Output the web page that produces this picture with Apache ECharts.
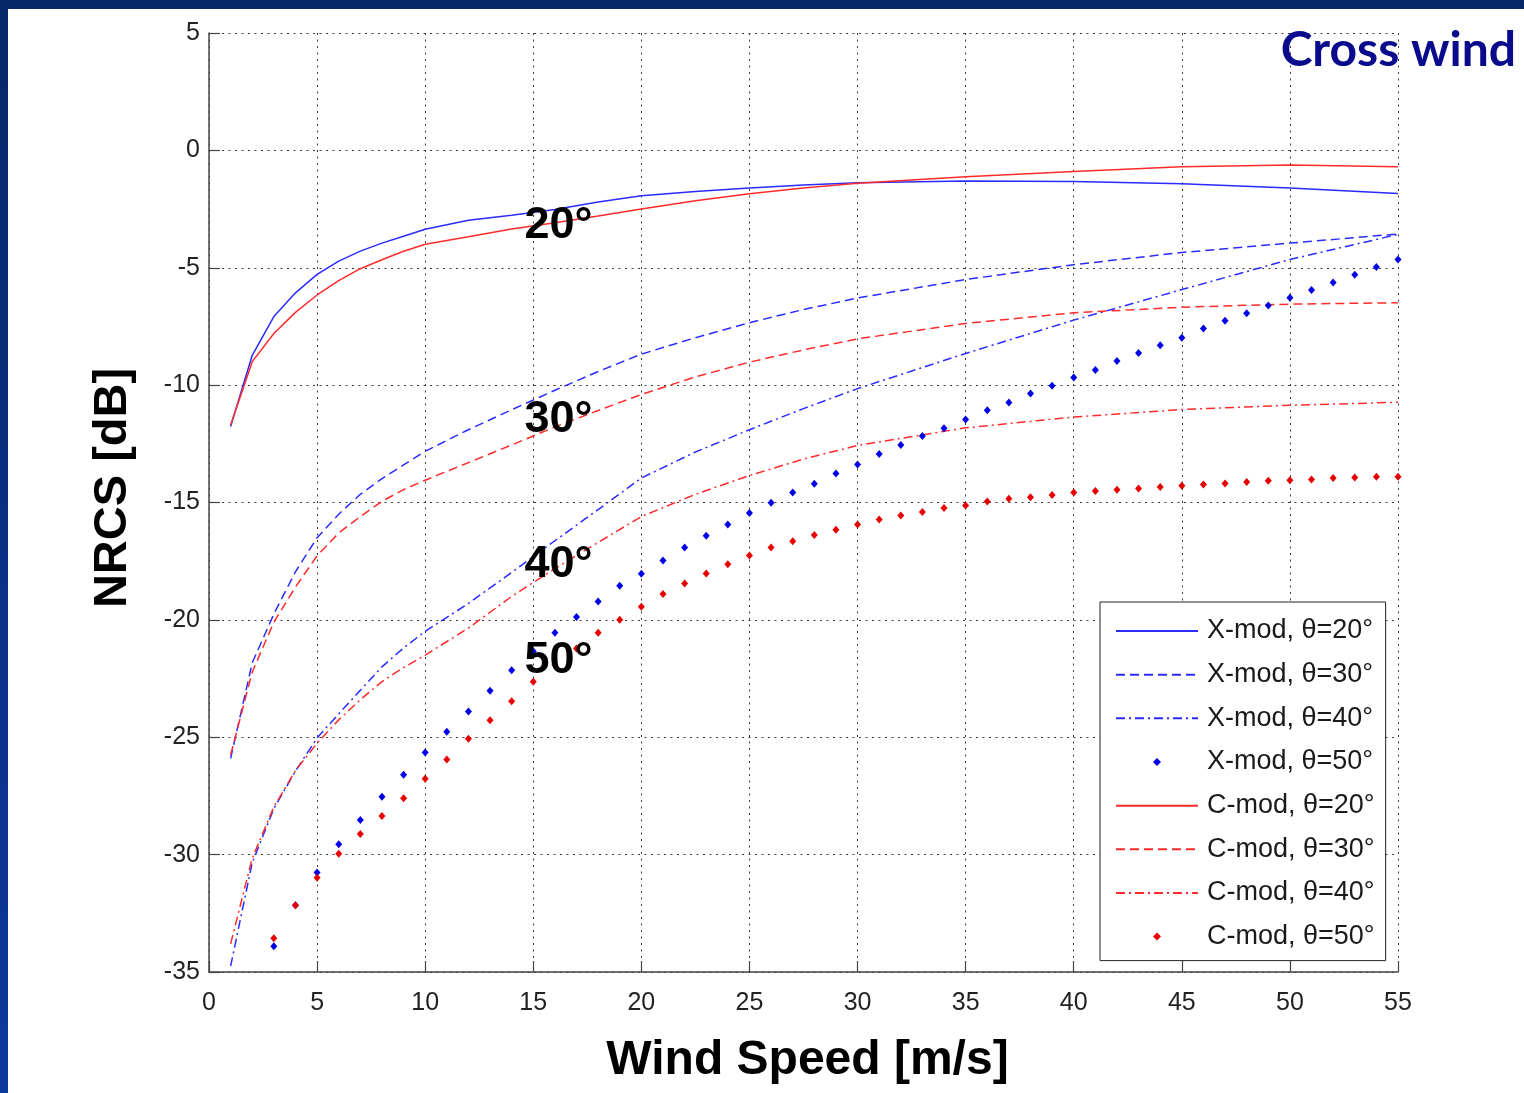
<!DOCTYPE html>
<html>
<head>
<meta charset="utf-8">
<title>Cross wind NRCS</title>
<script src="https://cdn.jsdelivr.net/npm/echarts@6.0.0/dist/echarts.min.js"></script>
<style>
  html, body { margin: 0; padding: 0; background: #fff; }
  #chart { width: 1524px; height: 1093px; }
</style>
</head>
<body>
<div id="chart"></div>
<script>
  const lineSpeeds = [1, 2, 3, 4, 5, 6, 7, 8, 9, 10, 12, 14, 16, 18, 20, 22.5, 25, 27.5, 30, 35, 40, 45, 50, 55];

  const xMod20 = [-11.76, -8.73, -7.08, -6.07, -5.28, -4.72, -4.29, -3.95, -3.66, -3.36, -2.98, -2.76, -2.52, -2.2, -1.93, -1.75, -1.6, -1.47, -1.38, -1.3, -1.33, -1.42, -1.6, -1.84];
  const xMod30 = [-25.9, -21.83, -19.75, -17.95, -16.5, -15.5, -14.65, -13.98, -13.4, -12.82, -11.9, -11.05, -10.22, -9.42, -8.68, -7.98, -7.34, -6.78, -6.29, -5.5, -4.87, -4.35, -3.95, -3.56];
  const xMod40 = [-34.75, -30.34, -28.04, -26.44, -25.03, -24.0, -23.0, -22.0, -21.2, -20.49, -19.3, -17.98, -16.63, -15.3, -13.96, -12.85, -11.9, -11.0, -10.15, -8.65, -7.23, -5.93, -4.65, -3.58];

  const cMod20 = [-11.7, -9.0, -7.8, -6.9, -6.16, -5.55, -5.04, -4.66, -4.3, -4.0, -3.68, -3.35, -3.08, -2.8, -2.5, -2.15, -1.85, -1.6, -1.4, -1.12, -0.9, -0.7, -0.62, -0.7];
  const cMod30 = [-25.75, -22.22, -20.1, -18.6, -17.27, -16.3, -15.6, -14.95, -14.45, -14.05, -13.3, -12.55, -11.78, -11.08, -10.4, -9.65, -9.02, -8.5, -8.03, -7.37, -6.92, -6.68, -6.55, -6.49];
  const cMod40 = [-33.8, -30.15, -27.97, -26.42, -25.25, -24.26, -23.4, -22.63, -22.03, -21.5, -20.35, -19.0, -17.82, -16.7, -15.6, -14.65, -13.85, -13.15, -12.57, -11.82, -11.36, -11.04, -10.86, -10.73];

  // 50 deg curves are plotted as markers at every integer wind speed
  const dotSpeeds = [3, 4, 5, 6, 7, 8, 9, 10, 11, 12, 13, 14, 15, 16, 17, 18, 19, 20, 21, 22, 23, 24, 25, 26, 27, 28, 29,
    30, 31, 32, 33, 34, 35, 36, 37, 38, 39, 40, 41, 42, 43, 44, 45, 46, 47, 48, 49, 50, 51, 52, 53, 54, 55];
  const xMod50 = [-33.9, -32.16, -30.76, -29.56, -28.52, -27.53, -26.6, -25.65, -24.77, -23.9, -23.02, -22.15, -21.34,
    -20.55, -19.88, -19.22, -18.55, -18.03, -17.47, -16.92, -16.42, -15.94, -15.45, -15.01, -14.57, -14.2, -13.76,
    -13.38, -12.93, -12.55, -12.17, -11.84, -11.46, -11.07, -10.74, -10.36, -10.03, -9.67, -9.36, -8.97, -8.63, -8.3,
    -7.98, -7.59, -7.26, -6.94, -6.61, -6.28, -5.95, -5.63, -5.3, -4.97, -4.65];
  const cMod50 = [-33.56, -32.16, -30.98, -29.96, -29.12, -28.35, -27.6, -26.77, -25.95, -25.06, -24.28, -23.47, -22.64,
    -21.91, -21.22, -20.55, -19.99, -19.44, -18.9, -18.45, -18.02, -17.63, -17.26, -16.92, -16.65, -16.38, -16.16,
    -15.94, -15.72, -15.55, -15.4, -15.23, -15.13, -14.96, -14.84, -14.78, -14.68, -14.57, -14.51, -14.46, -14.4,
    -14.34, -14.29, -14.23, -14.19, -14.13, -14.07, -14.05, -14.02, -13.96, -13.94, -13.9, -13.9];

  // incidence angle annotations, in data units (left edge / vertical middle)
  const angleLabels = ['20°', '30°', '40°', '50°'];
  const angleLabelX = [14.57, 14.57, 14.57, 14.57];
  const angleLabelY = [-3.19, -11.48, -17.66, -21.74];

  const seriesNames = [
    'X-mod, θ=20°', 'X-mod, θ=30°', 'X-mod, θ=40°', 'X-mod, θ=50°',
    'C-mod, θ=20°', 'C-mod, θ=30°', 'C-mod, θ=40°', 'C-mod, θ=50°',
  ];

  const BLUE = '#2b2bff';
  const RED = '#ff2b2b';
  const DOT_BLUE = '#0000e6';
  const DOT_RED = '#e60000';
  const FONT = '"Liberation Sans", Arial, Helvetica, sans-serif';

  function zip(xs, ys) {
    return xs.map((x, i) => [x, ys[i]]);
  }

  function curve(name, ys, color, dash) {
    return {
      type: 'line',
      name: name,
      data: zip(lineSpeeds, ys),
      symbol: 'none',
      smooth: false,
      lineStyle: { color: color, width: 1.5, type: dash },
      itemStyle: { color: color },
      z: 3,
    };
  }

  function dots(name, ys, color) {
    return {
      type: 'line',
      name: name,
      data: zip(dotSpeeds, ys),
      symbol: 'diamond',
      symbolSize: [7, 8],
      showSymbol: true,
      lineStyle: { color: color, width: 0, opacity: 0 },
      itemStyle: { color: color },
      z: 3,
    };
  }

  const chart = echarts.init(document.getElementById('chart'), null, { renderer: 'canvas' });

  const option = {
    animation: false,
    backgroundColor: '#ffffff',
    textStyle: { fontFamily: FONT },
    title: {
      text: 'Cross wind',
      right: 3,
      top: 22,
      textStyle: {
        fontFamily: 'Lato, "Open Sans", sans-serif',
        fontWeight: 'bold',
        fontSize: 48,
        color: '#0a0a8c',
      },
    },
    graphic: [
      {
        type: 'rect',
        shape: { x: 0, y: 0, width: 1524, height: 9 },
        style: { fill: '#062768' },
        silent: true,
        z: 100,
      },
      {
        type: 'rect',
        shape: { x: 0, y: 0, width: 8, height: 1093 },
        style: {
          fill: new echarts.graphic.LinearGradient(0, 0, 0, 1, [
            { offset: 0, color: '#062768' },
            { offset: 1, color: '#0c3a9c' },
          ]),
        },
        silent: true,
        z: 100,
      },
    ],
    grid: {
      left: 209,
      right: 126,
      top: 33,
      bottom: 121,
      containLabel: false,
      outerBoundsMode: 'none',
    },
    legend: {
      orient: 'vertical',
      left: 1100,
      top: 602,
      padding: [14, 11, 9, 15],
      itemWidth: 82,
      itemHeight: 10,
      itemGap: 13.66,
      backgroundColor: '#ffffff',
      borderColor: '#222',
      borderWidth: 1,
      borderRadius: 0,
      selectedMode: false,
      textStyle: {
        fontFamily: FONT,
        fontSize: 27,
        color: '#1a1a1a',
        lineHeight: 30,
        padding: [0, 0, 0, 4],
      },
      data: seriesNames.map((name) => (
        name.indexOf('50') > -1
          ? { name: name, lineStyle: { opacity: 0 } }
          : { name: name, itemStyle: { opacity: 0 } }
      )),
    },
    xAxis: {
      type: 'value',
      min: 0,
      max: 55,
      interval: 5,
      name: 'Wind Speed [m/s]',
      nameLocation: 'middle',
      nameGap: 65,
      nameTextStyle: {
        fontFamily: FONT,
        fontWeight: 'bold',
        fontSize: 48,
        color: '#000',
        padding: [0, 0, 0, 8],
      },
      axisLine: { show: true, onZero: false, lineStyle: { color: '#444', width: 1.5 } },
      axisTick: { show: true, inside: true, length: 11, lineStyle: { color: '#444', width: 1.2 } },
      axisLabel: { fontFamily: FONT, fontSize: 25, color: '#222', margin: 19 },
      splitLine: { show: true, lineStyle: { color: '#3c3c3c', width: 1, type: [2, 4.5] } },
    },
    yAxis: {
      type: 'value',
      min: -35,
      max: 5,
      interval: 5,
      name: 'NRCS [dB]',
      nameLocation: 'middle',
      nameGap: 72,
      nameTextStyle: {
        fontFamily: FONT,
        fontWeight: 'bold',
        fontSize: 47,
        color: '#000',
        padding: [0, 0, 0, 29],
      },
      axisLine: { show: true, onZero: false, lineStyle: { color: '#444', width: 1.5 } },
      axisTick: { show: true, inside: true, length: 11, lineStyle: { color: '#444', width: 1.2 } },
      axisLabel: { fontFamily: FONT, fontSize: 25, color: '#222', margin: 9 },
      splitLine: { show: true, lineStyle: { color: '#3c3c3c', width: 1, type: [2, 4.5] } },
    },
    series: [
      curve(seriesNames[0], xMod20, BLUE, 'solid'),
      curve(seriesNames[1], xMod30, BLUE, [9, 5]),
      curve(seriesNames[2], xMod40, BLUE, [9, 4, 2, 4]),
      dots(seriesNames[3], xMod50, DOT_BLUE),
      curve(seriesNames[4], cMod20, RED, 'solid'),
      curve(seriesNames[5], cMod30, RED, [9, 5]),
      curve(seriesNames[6], cMod40, RED, [9, 4, 2, 4]),
      dots(seriesNames[7], cMod50, DOT_RED),
      {
        type: 'scatter',
        name: 'angles',
        silent: true,
        symbol: 'circle',
        symbolSize: 1,
        itemStyle: { color: 'rgba(0,0,0,0)' },
        z: 6,
        label: {
          show: true,
          position: 'right',
          distance: 0,
          formatter: (p) => p.name,
          fontFamily: FONT,
          fontWeight: 'bold',
          fontSize: 45,
          color: '#000000',
          opacity: 1,
          textBorderWidth: 0,
        },
        data: angleLabels.map((t, i) => ({ name: t, value: [angleLabelX[i], angleLabelY[i]] })),
      },
    ],
  };

  chart.setOption(option);

  window.addEventListener('resize', () => {
    chart.resize();
  });
</script>
</body>
</html>
